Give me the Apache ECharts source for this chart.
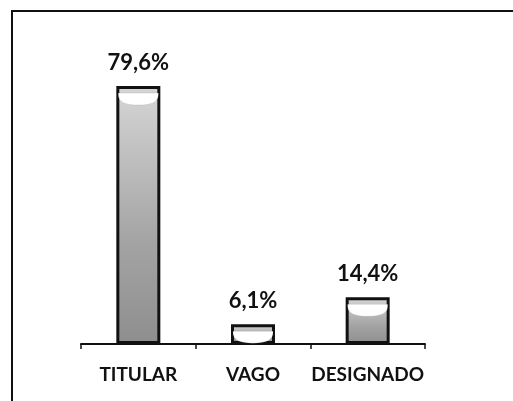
<!DOCTYPE html>
<html>
<head>
<meta charset="utf-8">
<script src="https://cdn.jsdelivr.net/npm/echarts@6/dist/echarts.min.js"></script>
<style>
  html, body { margin: 0; padding: 0; background: #fff; }
  #chart { width: 513px; height: 401px; }
</style>
</head>
<body>
<div id="chart"></div>
<script>
// categorias y porcentajes
const categories = ['TITULAR', 'VAGO', 'DESIGNADO']
const percents = [79.6, 6.1, 14.4]

const chart = echarts.init(document.getElementById('chart'))

const barFill = new echarts.graphic.LinearGradient(0, 0, 0, 1, [
  { offset: 0, color: '#d6d6d6' },
  { offset: 0.6, color: '#a4a4a4' },
  { offset: 1, color: '#8e8e8e' }
])

chart.setOption({
  animation: false,
  graphic: [{
    type: 'rect',
    shape: { x: 12, y: 11, width: 520, height: 420 },
    style: { fill: 'none', stroke: '#111', lineWidth: 2 }
  }],
  grid: { left: 81, right: 88, top: 20, bottom: 57 },
  xAxis: {
    type: 'category',
    data: categories,
    axisLine: { lineStyle: { color: '#111', width: 2 } },
    axisTick: { show: true, length: 5, lineStyle: { color: '#111', width: 1.5 } },
    axisLabel: {
      interval: 0,
      margin: 21,
      color: '#111',
      fontFamily: 'Lato',
      fontWeight: 'bold',
      fontSize: 19
    }
  },
  yAxis: {
    type: 'value',
    min: 0,
    max: 100,
    show: false
  },
  series: [
    {
      type: 'bar',
      data: percents,
      barWidth: 44,
      barGap: '-100%',
      itemStyle: {
        color: barFill,
        borderColor: '#111',
        borderWidth: 3
      },
      label: {
        show: true,
        position: 'top',
        distance: 12,
        color: '#111',
        fontFamily: 'Lato',
        fontWeight: 'bold',
        fontSize: 22,
        formatter: (p) => p.value.toFixed(1).replace('.', ',') + '%'
      }
    },
    {
      // tapa superior en forma de copa
      type: 'pictorialBar',
      data: percents,
      barWidth: 44,
      barGap: '-100%',
      symbol: 'path://M0,0 L100,0 L100,15 Q100,100 50,100 Q0,100 0,15 Z',
      symbolSize: [40, 12],
      symbolPosition: 'end',
      symbolOffset: [0, '55%'],
      itemStyle: { color: '#fff', borderColor: '#222', borderWidth: 1.5 },
      z: 3
    }
  ]
})
</script>
</body>
</html>
